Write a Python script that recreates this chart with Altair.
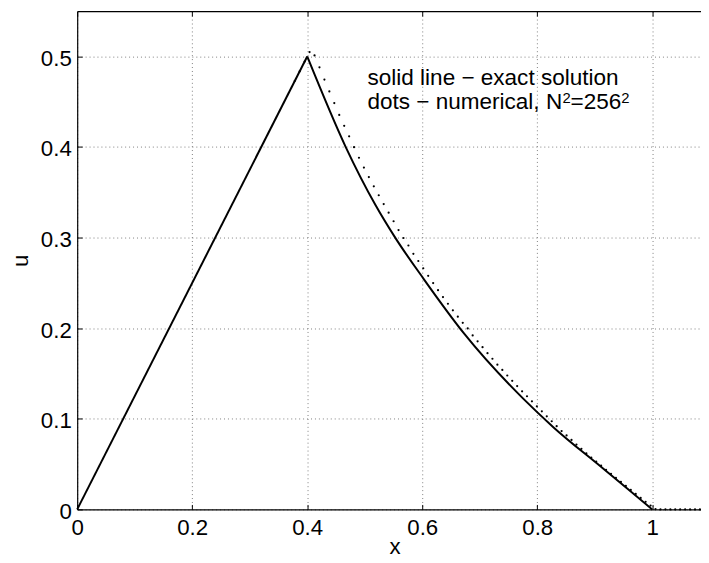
import altair as alt
import pandas as pd

# ---------------- data ----------------
XTICKS = [0, 0.2, 0.4, 0.6, 0.8, 1.0]
YTICKS = [0, 0.1, 0.2, 0.3, 0.4, 0.5]

# exact solution (solid line)
RISE_X = [0.0, 0.4]
RISE_U = [0.0, 0.5]
FALL_X = [0.4, 0.467, 0.5187, 0.553, 0.603, 0.673, 0.7765, 0.828, 0.914, 1.0]
FALL_U = [0.5, 0.400, 0.336, 0.300, 0.254, 0.194, 0.1217, 0.0908, 0.0454, 0.0]

# numerical solution (dots)
DOT_X = [0.3783, 0.3869, 0.3955, 0.4041, 0.4127, 0.4213, 0.4299, 0.4385, 0.4471,
         0.4557, 0.4643, 0.4729, 0.4814, 0.4900, 0.4986, 0.5072, 0.5158, 0.5244,
         0.5330, 0.5416, 0.5502, 0.5588, 0.5674, 0.5760, 0.5846, 0.5932, 0.6018,
         0.6104, 0.6190, 0.6275, 0.6361, 0.6447, 0.6533, 0.6619, 0.6705, 0.6791,
         0.6877, 0.6963, 0.7049, 0.7135, 0.7221, 0.7307, 0.7393, 0.7479, 0.7565,
         0.7651, 0.7737, 0.7822, 0.7908, 0.7994, 0.8080, 0.8166, 0.8252, 0.8338,
         0.8424, 0.8510, 0.8596, 0.8682, 0.8768, 0.8854, 0.8940, 0.9026, 0.9111,
         0.9197, 0.9283, 0.9369, 0.9455, 0.9541, 0.9627, 0.9713, 0.9799, 0.9885,
         0.9971, 1.0057, 1.0143, 1.0229, 1.0315, 1.0400, 1.0486, 1.0572, 1.0658,
         1.0744, 1.0830]
DOT_U = [0.4729, 0.4836, 0.4944, 0.5048, 0.5011, 0.4880, 0.4745, 0.4614, 0.4485,
         0.4354, 0.4234, 0.4118, 0.3998, 0.3882, 0.3774, 0.3669, 0.3567, 0.3468,
         0.3370, 0.3276, 0.3181, 0.3083, 0.2996, 0.2913, 0.2821, 0.2742, 0.2662,
         0.2578, 0.2498, 0.2420, 0.2344, 0.2270, 0.2198, 0.2128, 0.2060, 0.1998,
         0.1921, 0.1856, 0.1791, 0.1725, 0.1663, 0.1598, 0.1540, 0.1478, 0.1420,
         0.1362, 0.1304, 0.1249, 0.1193, 0.1138, 0.1083, 0.1028, 0.0973, 0.0919,
         0.0865, 0.0817, 0.0767, 0.0716, 0.0669, 0.0618, 0.0573, 0.0528, 0.0483,
         0.0438, 0.0393, 0.0348, 0.0303, 0.0259, 0.0215, 0.0171, 0.0127, 0.0084,
         0.0042, 0.0004, 0.0, 0.0, 0.0, 0.0, 0.0, 0.0, 0.0,
         0.0, 0.0]

LEGEND_LINE1 = "solid line \u2212 exact solution"
LEGEND_LINE2 = ["dots \u2212 numerical, N", "2", "=256", "2"]   # pieces: text, superscript, text, superscript

# ---------------- chart ----------------
FONT = "Liberation Sans"
W, H = 631, 504
xs = alt.Scale(domain=[0, 1.0848], nice=False, zero=False)
ys = alt.Scale(domain=[0, 0.55], nice=False, zero=False)

df_rise = pd.DataFrame({"x": RISE_X, "u": RISE_U})
df_fall = pd.DataFrame({"x": FALL_X, "u": FALL_U})
df_dots = pd.DataFrame({"x": DOT_X, "u": DOT_U})

grid_kw = dict(grid=True, gridDash=[1, 3], gridColor="#808080", gridWidth=1)
lab_kw = dict(labelFont=FONT, labelFontSize=22.5, labelColor="black",
              titleFont=FONT, titleFontSize=22.5, titleFontWeight="normal", titleColor="black")

ax_x_main = alt.Axis(orient="bottom", values=XTICKS, format="~g", ticks=False, tickSize=0,
                     domain=True, domainColor="black", domainWidth=1.2,
                     labelPadding=25, labelBaseline="alphabetic", labelFlush=False,
                     title="x", titleX=321, titleY=45, titleBaseline="alphabetic",
                     titleAlign="center", **grid_kw, **lab_kw)
ax_y_main = alt.Axis(orient="left", values=YTICKS, format="~g", ticks=False, tickSize=0,
                     domain=True, domainColor="black", domainWidth=1.2,
                     labelPadding=6, labelBaseline="alphabetic", labelOffset=9,
                     labelFlush=False,
                     title="u", titleX=-57, titleY=252, titleAngle=270,
                     titleBaseline="middle", titleAlign="center", **grid_kw, **lab_kw)

tick_kw = dict(ticks=True, tickSize=5, tickColor="black", tickWidth=1,
               labels=False, domain=False, grid=False, title=None)
ax_x_ticks_b = alt.Axis(orient="bottom", values=XTICKS, offset=-5, **tick_kw)
ax_y_ticks_l = alt.Axis(orient="left", values=YTICKS, offset=-5, **tick_kw)
ax_x_top_dom = alt.Axis(orient="top", values=XTICKS, ticks=False, labels=False, grid=False,
                        domain=True, domainColor="black", domainWidth=1.2, title=None)
ax_x_ticks_t = alt.Axis(orient="top", values=XTICKS, offset=-5, **tick_kw)

rise = alt.Chart(df_rise).mark_line(color="black", strokeWidth=2, strokeJoin="miter").encode(
    x=alt.X("x:Q", scale=xs, axis=ax_x_main),
    y=alt.Y("u:Q", scale=ys, axis=ax_y_main),
)
fall = alt.Chart(df_fall).mark_line(color="black", strokeWidth=2, interpolate="monotone").encode(
    x=alt.X("x:Q", scale=xs, axis=ax_x_ticks_b),
    y=alt.Y("u:Q", scale=ys, axis=ax_y_ticks_l),
)
dots = alt.Chart(df_dots).mark_circle(color="black", size=5, opacity=1).encode(
    x=alt.X("x:Q", scale=xs, axis=ax_x_top_dom),
    y=alt.Y("u:Q", scale=ys, axis=None),
)
top_ticks = alt.Chart(df_dots).mark_point(opacity=0).encode(
    x=alt.X("x:Q", scale=xs, axis=ax_x_ticks_t),
    y=alt.Y("u:Q", scale=ys, axis=None),
)


def label(txt, px, py, size):
    return alt.Chart(pd.DataFrame({"t": [txt]})).mark_text(
        align="left", baseline="alphabetic", font=FONT, fontSize=size, color="black"
    ).encode(text="t:N", x=alt.value(px), y=alt.value(py))


texts = [
    label(LEGEND_LINE1, 293.7, 74.5, 22.8),
    label(LEGEND_LINE2[0], 293.7, 98.5, 22.8),
    label(LEGEND_LINE2[1], 490.8, 93.0, 15),
    label(LEGEND_LINE2[2], 499.1, 98.5, 22.8),
    label(LEGEND_LINE2[3], 550.4, 93.0, 15),
]

chart = alt.layer(rise, fall, dots, top_ticks, *texts).resolve_axis(
    x="independent", y="independent"
).properties(
    width=W, height=H,
    autosize=alt.AutoSizeParams(type="none"),
    padding={"left": 70, "top": 0, "right": 0, "bottom": 50},
    background="white",
).configure_view(strokeWidth=0)

chart.save("out.html", embed_options={"renderer": "svg", "actions": False})
